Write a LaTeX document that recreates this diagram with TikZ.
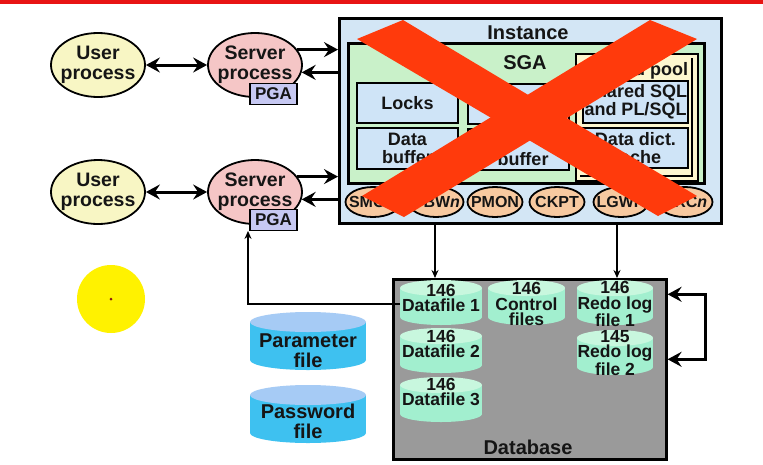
\documentclass[tikz,border=0pt]{standalone}
\usepackage{fontspec}
\setmainfont{Liberation Sans}
\usetikzlibrary{arrows.meta,shapes.geometric}
\definecolor{topred}{RGB}{232,20,20}
\definecolor{instfill}{HTML}{D3E6F5}
\definecolor{sgafill}{HTML}{C9F1C9}
\definecolor{poolfill}{HTML}{FDF7CF}
\definecolor{bluebox}{HTML}{CFE4F7}
\definecolor{procfill}{HTML}{F7C9A0}
\definecolor{userfill}{HTML}{F8F6C4}
\definecolor{srvfill}{HTML}{F5C6C6}
\definecolor{pgafill}{HTML}{C6C8F2}
\definecolor{dbgray}{HTML}{9A9A9A}
\definecolor{cylbody}{HTML}{A2EFCF}
\definecolor{cyltop}{HTML}{C8F7DE}
\definecolor{parambody}{HTML}{3EC1F0}
\definecolor{paramtop}{HTML}{A6CBF5}
\definecolor{xred}{HTML}{FF3A0C}
\definecolor{txt}{HTML}{151515}
\definecolor{dotred}{HTML}{8A1A10}
\newcommand\dbcyl[7]{%
  \fill[#6] ({#1-#4},#2) rectangle ({#1+#4},#3);
  \fill[#6] (#1,#3) ellipse [x radius=#4, y radius=#5];
  \fill[#7] (#1,#2) ellipse [x radius=#4, y radius=#5];
}
\tikzset{
  box/.style={draw=black, rectangle, inner sep=0pt, anchor=north west},
  lbl/.style={font=\fontsize{18}{18}\selectfont\bfseries, text=txt, align=center, inner sep=0pt},
  biglbl/.style={font=\fontsize{20}{20}\selectfont\bfseries, text=txt, align=center, inner sep=0pt},
  proc/.style={ellipse, draw=black, line width=1.8pt, fill=procfill, minimum width=55pt, minimum height=30pt, inner sep=0pt},
  ptxt/.style={font=\fontsize{16}{16}\selectfont\bfseries, text=txt, inner sep=0pt},
  userp/.style={ellipse, draw=black, line width=1.8pt, fill=userfill, minimum width=94pt, minimum height=64pt, inner sep=0pt},
  srvp/.style={ellipse, draw=black, line width=1.8pt, fill=srvfill, minimum width=94pt, minimum height=64pt, inner sep=0pt},
  etxt/.style={font=\fontsize{19.5}{20}\selectfont\bfseries, text=txt, align=center, inner sep=0pt},
  pga/.style={rectangle, draw=black, line width=1.8pt, fill=pgafill, minimum width=47pt, minimum height=21pt, inner sep=0pt, font=\fontsize{17}{17}\selectfont\bfseries, text=txt},
  cyltxt/.style={font=\fontsize{17.5}{15.5}\selectfont\bfseries, text=txt, align=center, inner sep=0pt},
  bigarrow/.style={line width=3pt, -{Stealth[length=14pt,width=15pt,inset=5pt]}},
  dblarrow/.style={line width=3pt, {Stealth[length=14pt,width=15pt,inset=5pt]}-{Stealth[length=14pt,width=15pt,inset=5pt]}},
  thinarrow/.style={line width=1.3pt, -{Stealth[length=8pt,width=7pt]}},
}
\begin{document}
\begin{tikzpicture}[x=1pt,y=-1pt]
\useasboundingbox (0,0) rectangle (763,464);
\fill[white] (0,0) rectangle (763,464);
\fill[topred] (0,0) rectangle (763,4);

% Instance
\node[box, fill=instfill, line width=2.6pt, minimum width=382pt, minimum height=205pt] (inst) at (338,17) {};
\node[biglbl] (instlbl) at (528,33) {Instance};
\node[box, fill=sgafill, line width=2.6pt, minimum width=356pt, minimum height=140pt] (sga) at (347,42) {};
\node[biglbl] (sgalbl) at (525,63) {SGA};
\node[box, fill=poolfill, line width=2.4pt, minimum width=122pt, minimum height=127pt] (pool) at (575,53) {};
\draw[line width=1.2pt] (692,58) -- (692,176) -- (580,176);
\node[lbl] (poollbl) at (636,71) {Shared pool};
\node[box, fill=bluebox, line width=2.4pt, minimum width=101pt, minimum height=40pt, anchor=center, lbl] (locks) at (407.5,103) {Locks};
\node[box, fill=bluebox, line width=2.4pt, minimum width=101pt, minimum height=40pt] (midtop) at (467,83) {};
\node[box, fill=bluebox, line width=2.4pt, minimum width=105pt, minimum height=42pt, anchor=center, lbl] (sql) at (635.5,102) {Shared SQL\\and PL/SQL};
\node[box, fill=bluebox, line width=2.4pt, minimum width=101pt, minimum height=41pt, anchor=center, lbl] (databuf) at (407.5,148.5) {Data\\buffer};
\node[box, fill=bluebox, line width=2.4pt, minimum width=101pt, minimum height=41pt] (redobuf) at (467,128) {};
\node[lbl] (redobuflbl) at (523,159) {buffer};
\node[box, fill=bluebox, line width=2.4pt, minimum width=105pt, minimum height=40pt, anchor=center, lbl] (dict) at (635.5,148) {Data dict.\\cache};

% background processes
\node[proc] (smon) at (373,202) {};
\node[ptxt] (smonlbl) at (smon) {SMON};
\node[proc] (dbwn) at (436,202) {};
\node[ptxt] (dbwnlbl) at (dbwn) {DBW\textit{n}};
\node[proc] (pmon) at (495,202) {};
\node[ptxt] (pmonlbl) at (pmon) {PMON};
\node[proc] (ckpt) at (557,202) {};
\node[ptxt] (ckptlbl) at (ckpt) {CKPT};
\node[proc] (lgwr) at (621,202) {};
\node[ptxt] (lgwrlbl) at (lgwr) {LGWR};
\node[proc] (arcn) at (685,202) {};
\node[ptxt] (arcnlbl) at (arcn) {ARC\textit{n}};

% user / server processes
\node[userp] (usr1) at (98,65) {};
\node[etxt] (usr1lbl) at (usr1) {User\\process};
\node[srvp] (srv1) at (255,65) {};
\node[etxt] (srv1lbl) at (srv1) {Server\\process};
\node[pga] (pga1) at (273.5,94) {PGA};
\node[userp] (usr2) at (98,192) {};
\node[etxt] (usr2lbl) at (usr2) {User\\process};
\node[srvp] (srv2) at (255,192) {};
\node[etxt] (srv2lbl) at (srv2) {Server\\process};
\node[pga] (pga2) at (273.5,220) {PGA};

\draw[dblarrow] (usr1.east) -- (usr1.east -| srv1.west);
\draw[dblarrow] (usr2.east) -- (usr2.east -| srv2.west);
\draw[bigarrow] (srv1.20) -- (srv1.20 -| inst.west);
\draw[bigarrow] (srv1.-9 -| inst.west) -- (srv1.-9);
\draw[bigarrow] (srv2.20) -- (srv2.20 -| inst.west);
\draw[bigarrow] (srv2.-9 -| inst.west) -- (srv2.-9);

% Database
\node[box, fill=dbgray, line width=2.6pt, minimum width=273pt, minimum height=180pt] (db) at (392,278) {};
\node[biglbl] (dblbl) at (528,447) {Database};
\draw[thinarrow] ([xshift=97pt]inst.south west) -- ([xshift=97pt]inst.south west |- db.north);
\draw[thinarrow] ([xshift=279pt]inst.south west) -- ([xshift=279pt]inst.south west |- db.north);

\dbcyl{441}{288}{317}{41}{8}{cylbody}{cyltop}
\dbcyl{526.5}{288}{317}{38.5}{8}{cylbody}{cyltop}
\dbcyl{615}{288}{317}{38}{8}{cylbody}{cyltop}
\dbcyl{441}{336}{365}{41}{8}{cylbody}{cyltop}
\dbcyl{615}{338}{367}{38}{8}{cylbody}{cyltop}
\dbcyl{441}{385}{414}{41}{8}{cylbody}{cyltop}
\node[cyltxt, minimum width=82pt] (df1) at (441,298) {146\\Datafile 1};
\node[cyltxt] (ctl) at (526.5,304) {146\\Control\\files};
\node[cyltxt] (redo1) at (615,304) {146\\Redo log\\file 1};
\node[cyltxt] (df2) at (441,344) {146\\Datafile 2};
\node[cyltxt] (redo2) at (615,353) {145\\Redo log\\file 2};
\node[cyltxt] (df3) at (441,392) {146\\Datafile 3};

\draw[thinarrow] ([yshift=-6pt]df1.west) -| ([xshift=-7pt,yshift=-6pt]srv2.south);
\draw[dblarrow, line width=3.5pt] ([yshift=75pt]db.east) -- ++(38,0) -- ++(0,65) -- ([yshift=10pt]db.east);

% parameter / password files
\dbcyl{308}{322}{360}{58}{10}{parambody}{paramtop}
\dbcyl{308}{395}{433}{58}{10}{parambody}{paramtop}
\node[etxt, font=\fontsize{20}{20}\selectfont\bfseries] (param) at (308,351) {Parameter\\file};
\node[etxt, font=\fontsize{20}{20}\selectfont\bfseries] (pwd) at (308,421) {Password\\file};

% yellow circle
\node[circle, fill=yellow, minimum size=68pt, inner sep=0pt] (sun) at (111,299) {};
\fill[dotred] (sun.center) circle (1.5);

% red cross
\fill[xred] (357,39) -- (403,20) -- (697,196) -- (658,216) -- cycle;
\fill[xred] (650,20) -- (697,39) -- (404,217) -- (362,196) -- cycle;
\end{tikzpicture}
\end{document}
